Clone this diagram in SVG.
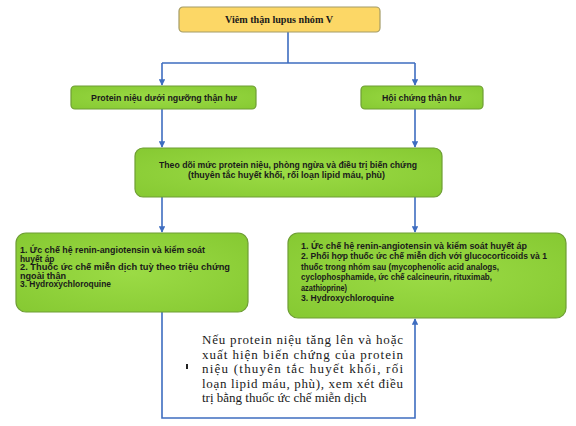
<svg xmlns="http://www.w3.org/2000/svg" width="576" height="426" viewBox="0 0 576 426">
<defs>
<marker id="ah" viewBox="0 0 10 10" refX="9" refY="5" markerWidth="4" markerHeight="4" orient="auto-start-reverse">
<path d="M0,0 L10,5 L0,10 z" fill="#3E6DC0"/>
</marker>
<radialGradient id="g" cx="50%" cy="50%" r="70%">
<stop offset="0" stop-color="#9BDB45"/>
<stop offset="1" stop-color="#86C932"/>
</radialGradient>
</defs>
<style>
.box{fill:url(#g);stroke:#6E9E34;stroke-width:1.2}
.top{fill:#FCD766;stroke:#A49C66;stroke-width:1.2}
.t{font-family:"Liberation Sans",Arial,sans-serif;font-weight:bold;font-size:8.4px;fill:#1a1a1a}
.c{text-anchor:middle}
.ser{font-family:"Liberation Serif","Times New Roman",serif;font-size:13px;fill:#1a1a1a}
.ln{fill:none;stroke:#3E6DC0;stroke-width:1.6}
</style>
<rect width="576" height="426" fill="#ffffff"/>
<g id="connectors">
<path class="ln" d="M288,32 V63 M162,63 H415"/>
<path class="ln" d="M162,63 V85" marker-end="url(#ah)"/>
<path class="ln" d="M415,63 V85" marker-end="url(#ah)"/>
<path class="ln" d="M162,109 V147" marker-end="url(#ah)"/>
<path class="ln" d="M415,109 V147" marker-end="url(#ah)"/>
<path class="ln" d="M162,197 V232" marker-end="url(#ah)"/>
<path class="ln" d="M415,197 V232" marker-end="url(#ah)"/>
<path class="ln" d="M162,312 V418 H415 V319" marker-end="url(#ah)"/>
</g>
<g id="n-top">
<rect class="top" x="179" y="7" width="201" height="25" rx="4"/>
<text x="279" y="23" text-anchor="middle" font-family="'Liberation Serif','Times New Roman',serif" font-weight="bold" font-size="10" fill="#1a1a1a" textLength="108" lengthAdjust="spacingAndGlyphs">Viêm thận lupus nhóm V</text>
</g>
<g id="n-left2">
<rect class="box" x="71" y="86" width="185" height="23" rx="4"/>
<text class="t" x="91" y="101" textLength="146" lengthAdjust="spacingAndGlyphs">Protein niệu dưới ngưỡng thận hư</text>
</g>
<g id="n-right2">
<rect class="box" x="361" y="86" width="122" height="23" rx="4"/>
<text class="t" x="382" y="101" textLength="79" lengthAdjust="spacingAndGlyphs">Hội chứng thận hư</text>
</g>
<g id="n-mid">
<rect class="box" x="135" y="148" width="307" height="49" rx="8"/>
<text class="t" x="159" y="168" textLength="258" lengthAdjust="spacingAndGlyphs">Theo dõi mức protein niệu, phòng ngừa và điều trị biến chứng</text>
<text class="t" x="188" y="177.5" textLength="197" lengthAdjust="spacingAndGlyphs">(thuyên tắc huyết khối, rối loạn lipid máu, phù)</text>
</g>
<g id="n-bl">
<rect class="box" x="16" y="233" width="232" height="79" rx="10"/>
<text class="t" x="20" y="253" textLength="185" lengthAdjust="spacingAndGlyphs">1. Ức chế hệ renin-angiotensin và kiểm soát</text>
<text class="t" x="20" y="261.5">huyết áp</text>
<text class="t" x="20" y="270" textLength="210" lengthAdjust="spacingAndGlyphs">2. Thuốc ức chế miễn dịch tuỳ theo triệu chứng</text>
<text class="t" x="20" y="278.5" textLength="46" lengthAdjust="spacingAndGlyphs">ngoài thận</text>
<text class="t" x="20" y="287" textLength="91" lengthAdjust="spacingAndGlyphs">3. Hydroxychloroquine</text>
</g>
<g id="n-br">
<rect class="box" x="288" y="233" width="278" height="85" rx="10"/>
<text class="t" x="301" y="248.5" textLength="226" lengthAdjust="spacingAndGlyphs">1. Ức chế hệ renin-angiotensin và kiểm soát huyết áp</text>
<text class="t" x="301" y="259" textLength="246" lengthAdjust="spacingAndGlyphs">2. Phối hợp thuốc ức chế miễn dịch với glucocorticoids và 1</text>
<text class="t" x="301" y="269.5" textLength="198" lengthAdjust="spacingAndGlyphs">thuốc trong nhóm sau (mycophenolic acid analogs,</text>
<text class="t" x="301" y="280" textLength="191" lengthAdjust="spacingAndGlyphs">cyclophosphamide, ức chế calcineurin, rituximab,</text>
<text class="t" x="301" y="290.5" textLength="46" lengthAdjust="spacingAndGlyphs">azathioprine)</text>
<text class="t" x="301" y="301" textLength="93" lengthAdjust="spacingAndGlyphs">3. Hydroxychloroquine</text>
</g>
<g id="note">
<rect x="186" y="364" width="2" height="5" fill="#222"/>
<text class="ser" x="202" y="344" textLength="201" lengthAdjust="spacing">Nếu protein niệu tăng lên và hoặc</text>
<text class="ser" x="202" y="358.5" textLength="201" lengthAdjust="spacing">xuất hiện biến chứng của protein</text>
<text class="ser" x="202" y="373" textLength="201" lengthAdjust="spacing">niệu (thuyên tắc huyết khối, rối</text>
<text class="ser" x="202" y="387.5" textLength="201" lengthAdjust="spacing">loạn lipid máu, phù), xem xét điều</text>
<text class="ser" x="202" y="402">trị bằng thuốc ức chế miễn dịch</text>
</g>
</svg>
